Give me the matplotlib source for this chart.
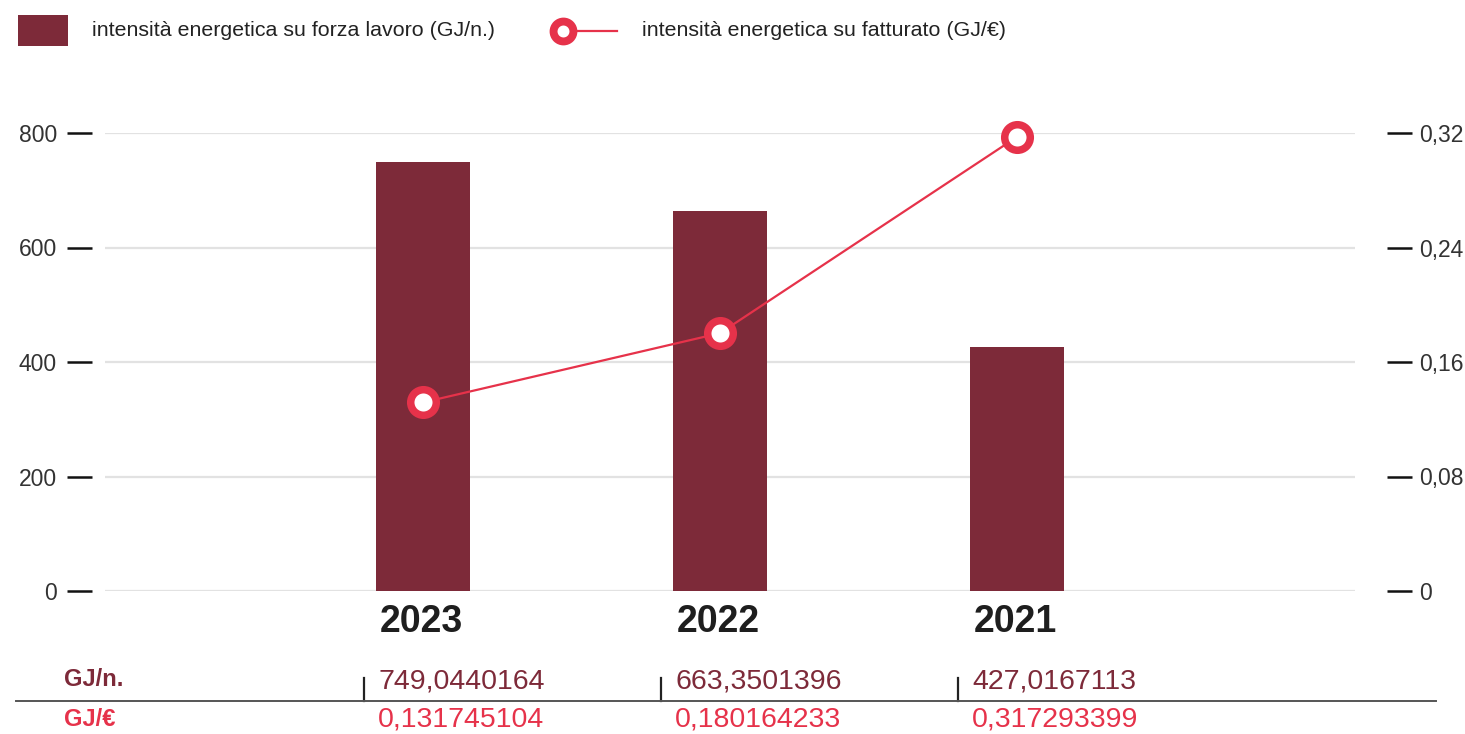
import matplotlib
matplotlib.use("Agg")
import matplotlib.pyplot as plt
from matplotlib.lines import Line2D
from matplotlib.patches import Rectangle

plt.rcParams['font.family'] = ['Liberation Sans', 'DejaVu Sans']

anni = ["2023", "2022", "2021"]
forza_lavoro = [749.0440164, 663.3501396, 427.0167113]
fatturato = [0.131745104, 0.180164233, 0.317293399]
etichette_lavoro = ["749,0440164", "663,3501396", "427,0167113"]
etichette_fatturato = ["0,131745104", "0,180164233", "0,317293399"]
tick_sx = [0, 200, 400, 600, 800]
tick_dx = [0, 0.08, 0.16, 0.24, 0.32]
tick_dx_lbl = ["0", "0,08", "0,16", "0,24", "0,32"]

BORDEAUX = "#7D2A39"
ROSSO = "#E6324A"
W, H = 1465, 734
PX = 72 / 100  # pixel -> punti

fig = plt.figure(figsize=(W / 100, H / 100), dpi=100)
ax = fig.add_axes([105 / W, (H - 591) / H, 1250 / W, 458 / H])
ax2 = ax.twinx()

x = list(range(len(anni)))
larg = 0.317
ax.bar(x, forza_lavoro, width=larg, color=BORDEAUX, zorder=2)
ax.set_xlim(-1.071, 3.138)
ax.set_ylim(0, 800)
ax.set_yticks(tick_sx)
ax.set_yticklabels([str(t) for t in tick_sx])
ax.grid(axis='y', color='#e2e2e2', linewidth=1.6, zorder=0)
ax.set_axisbelow(True)
ax.set_xticks([])

ax2.plot(x, fatturato, color=ROSSO, linewidth=1.6, marker='o', markersize=18.4,
         markerfacecolor='white', markeredgecolor=ROSSO, markeredgewidth=5.4,
         clip_on=False, zorder=5)
ax2.set_ylim(0, 0.32)
ax2.set_yticks(tick_dx)
ax2.set_yticklabels(tick_dx_lbl)

for a in (ax, ax2):
    for s in a.spines.values():
        s.set_visible(False)
ax.spines['left'].set_position(('outward', 13 * PX))
ax2.spines['right'].set_position(('outward', 32 * PX))
ax.tick_params(axis='y', length=25 * PX, width=1.8, color='#111', pad=10 * PX,
               labelsize=16.5, labelcolor='#333')
ax2.tick_params(axis='y', length=25 * PX, width=1.8, color='#111', pad=7 * PX,
                labelsize=16.5, labelcolor='#333')

# anni sotto le barre
for i, a in enumerate(anni):
    ax.text(i - larg / 2 + 0.012, -(622 - 591) / 458, a,
            transform=ax.get_xaxis_transform(), ha='left', va='center',
            fontsize=27, fontweight='bold', color='#1e1e1e')

# tabella valori
trans = ax.get_xaxis_transform()
fig.text(64 / W, 1 - 679 / H, "GJ/n.", fontsize=17, fontweight='bold',
         color=BORDEAUX, va='center')
fig.text(64 / W, 1 - 719 / H, "GJ/€", fontsize=17, fontweight='bold',
         color=ROSSO, va='center')
for i in x:
    x0 = i - larg / 2
    ax.text(x0 + 0.008, -(681 - 591) / 458, etichette_lavoro[i], transform=trans,
            ha='left', va='center', fontsize=20.5, color=BORDEAUX)
    ax.text(x0 + 0.008, -(719 - 591) / 458, etichette_fatturato[i], transform=trans,
            ha='left', va='center', fontsize=20.5, color=ROSSO)
    ax.plot([x0 - 0.04, x0 - 0.04], [-(678 - 591) / 458, -(701 - 591) / 458],
            transform=trans, color='#222', linewidth=1.6, clip_on=False)
fig.add_artist(Line2D([16 / W, 1436 / W], [1 - 701 / H, 1 - 701 / H],
                      color='#555', linewidth=1.4))

# legenda
fig.add_artist(Rectangle((18 / W, 1 - 46 / H), 50 / W, 31 / H,
                         facecolor=BORDEAUX, edgecolor='none'))
fig.text(92 / W, 1 - 31 / H, "intensità energetica su forza lavoro (GJ/n.)",
         fontsize=15.4, color='#222', va='center')
fig.add_artist(Line2D([563 / W, 617 / W], [1 - 31 / H, 1 - 31 / H],
                      color=ROSSO, linewidth=1.6, marker='o', markevery=[0],
                      markersize=14.3, markerfacecolor='white',
                      markeredgecolor=ROSSO, markeredgewidth=5.7))
fig.text(642 / W, 1 - 31 / H, "intensità energetica su fatturato (GJ/€)",
         fontsize=15.4, color='#222', va='center')

fig.savefig("out.png", dpi=100, facecolor='white')
